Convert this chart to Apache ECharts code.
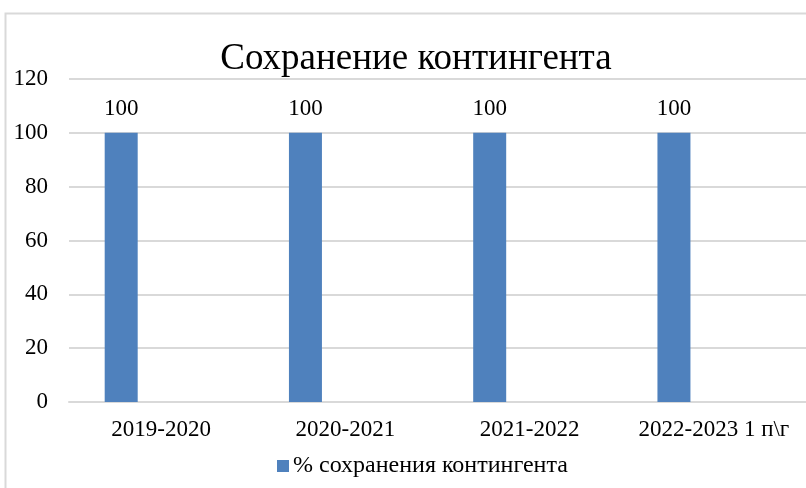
<!DOCTYPE html>
<html>
<head>
<meta charset="utf-8">
<script src="https://cdn.jsdelivr.net/npm/echarts@6/dist/echarts.min.js"></script>
<style>
  html, body { margin: 0; padding: 0; background: #fff; }
  #chart { width: 806px; height: 488px; }
</style>
</head>
<body>
<div id="chart"></div>
<script>
const categories = ['2019-2020', '2020-2021', '2021-2022', '2022-2023 1 п\\г']
const keepRate = [100, 100, 100, 100]
// пустой второй ряд, как в исходной диаграмме (сдвигает столбцы влево)
const spacer = [null, null, null, null]
const yTicks = { min: 0, max: 120, step: 20 }

const serif = "'Times New Roman', 'Liberation Serif', serif"

const chart = echarts.init(document.getElementById('chart'))

const option = {
  backgroundColor: '#ffffff',
  animation: false,
  title: {
    text: 'Сохранение контингента',
    left: 411,
    textAlign: 'center',
    top: 36,
    textStyle: {
      fontFamily: serif,
      fontWeight: 'normal',
      fontSize: 37,
      color: '#000'
    }
  },
  graphic: [{
    type: 'rect',
    shape: { x: 5.5, y: 13.5, width: 900, height: 600 },
    style: { fill: 'none', stroke: '#d9d9d9', lineWidth: 2 },
    silent: true
  }],
  legend: {
    data: ['% сохранения контингента'],
    left: 272,
    top: 449,
    itemWidth: 12,
    itemHeight: 12,
    itemGap: 5,
    icon: 'rect',
    textStyle: {
      fontFamily: serif,
      fontSize: 24,
      color: '#000',
      padding: [0, 0, 0, -1]
    }
  },
  grid: {
    left: 69,
    top: 79,
    width: 740,
    height: 323,
    containLabel: false
  },
  xAxis: {
    type: 'category',
    data: categories,
    axisLine: { lineStyle: { color: '#d9d9d9', width: 2 } },
    axisTick: { show: false },
    axisLabel: {
      fontFamily: serif,
      fontSize: 23,
      color: '#000',
      margin: 16,
      interval: 0
    }
  },
  yAxis: {
    type: 'value',
    min: yTicks.min,
    max: yTicks.max,
    interval: yTicks.step,
    axisLine: { show: false },
    axisTick: { show: false },
    splitLine: { lineStyle: { color: '#d9d9d9', width: 2 } },
    axisLabel: {
      fontFamily: serif,
      fontSize: 23,
      color: '#000',
      margin: 21
    }
  },
  series: [
    {
      name: '% сохранения контингента',
      type: 'bar',
      data: keepRate,
      barWidth: 33,
      barGap: '142%',
      itemStyle: { color: '#4f81bd' },
      label: {
        show: true,
        position: 'top',
        distance: 12,
        fontFamily: serif,
        fontSize: 23,
        color: '#000'
      }
    },
    {
      name: 'spacer',
      type: 'bar',
      data: spacer,
      barWidth: 33,
      itemStyle: { color: '#c0504d' }
    }
  ]
}

chart.setOption(option)
</script>
</body>
</html>
